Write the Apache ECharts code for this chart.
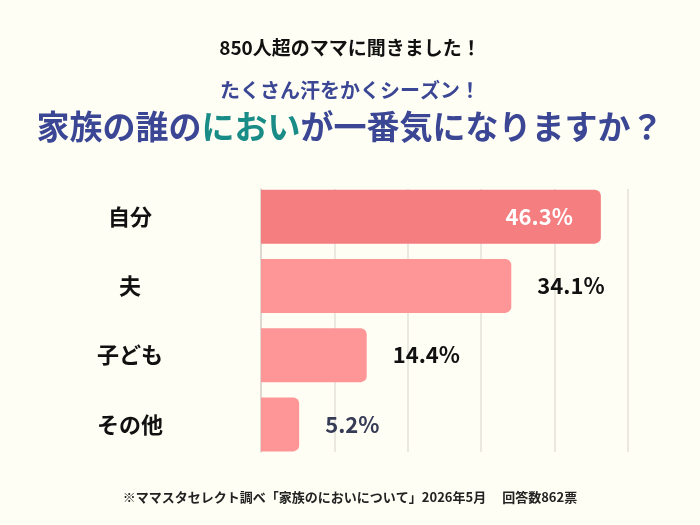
<!DOCTYPE html>
<html>
<head>
<meta charset="utf-8">
<script src="https://cdn.jsdelivr.net/npm/echarts@6/dist/echarts.min.js"></script>
<style>
  html, body { margin: 0; padding: 0; background: #fffef4; }
  #chart { width: 700px; height: 525px; }
</style>
</head>
<body>
<div id="chart"></div>
<script>
// survey answers, top to bottom
var categories = ['自分', '夫', '子ども', 'その他'];
var percents = [46.3, 34.1, 14.4, 5.2];
var barColors = ['#f47e80', '#fe9597', '#fe9597', '#fe9597'];
var labelColors = ['#ffffff', '#111111', '#111111', '#363b56'];

var FONT = '"Noto Sans CJK JP", "Noto Sans", sans-serif';
var chart = echarts.init(document.getElementById('chart'));

var option = {
  backgroundColor: '#fffef4',
  textStyle: { fontFamily: FONT },
  title: [{
    text: '850人超のママに聞きました！',
    left: 'center', top: 33,
    textStyle: { fontFamily: FONT, fontSize: 19, fontWeight: 'bold', color: '#111111' }
  }, {
    text: 'たくさん汗をかくシーズン！',
    left: 'center', top: 75,
    textStyle: { fontFamily: FONT, fontSize: 20, fontWeight: 'bold', color: '#3b4795' }
  }, {
    text: '{n|家族の誰の}{t|におい}{n|が一番気になりますか？}',
    left: 'center', top: 105,
    textStyle: {
      fontFamily: FONT,
      rich: {
        n: { fontFamily: FONT, fontSize: 33, fontWeight: 'bold', color: '#3b4795' },
        t: { fontFamily: FONT, fontSize: 33, fontWeight: 'bold', color: '#1a8c87' }
      }
    }
  }, {
    text: '※ママスタセレクト調べ「家族のにおいについて」2026年5月　 回答数862票',
    left: 'center', top: 486,
    textStyle: { fontFamily: FONT, fontSize: 13, fontWeight: 'bold', color: '#222222' }
  }],
  // grid 0 only carries the background grid lines, grid 1 the bars
  grid: [
    { left: 261, right: 72, top: 189, bottom: 73 },
    { left: 261, right: 72, top: 182, bottom: 66 }
  ],
  xAxis: [{
    gridIndex: 0, type: 'value', min: 0, max: 50, interval: 10,
    axisLabel: { show: false }, axisLine: { show: false }, axisTick: { show: false },
    splitLine: { lineStyle: { color: '#e4e1d8', width: 1.5 } }
  }, {
    gridIndex: 1, type: 'value', min: 0, max: 50, interval: 10,
    axisLabel: { show: false }, axisLine: { show: false }, axisTick: { show: false },
    splitLine: { show: false }
  }],
  yAxis: [{
    gridIndex: 0, type: 'category', inverse: true, data: categories,
    axisLine: { show: true, lineStyle: { color: '#d8d5cc', width: 1.5 } },
    axisTick: { show: false },
    axisLabel: { show: false }
  }, {
    gridIndex: 1, type: 'category', inverse: true, data: categories,
    axisLine: { show: false },
    axisTick: { show: false },
    axisLabel: {
      margin: 131, align: 'center',
      fontFamily: FONT, fontSize: 22, fontWeight: 'bold', color: '#111111'
    }
  }],
  series: [{
    type: 'bar',
    xAxisIndex: 1, yAxisIndex: 1,
    barWidth: 54,
    data: percents.map(function (v, i) {
      return {
        value: v,
        itemStyle: { color: barColors[i], borderRadius: [0, 6, 6, 0] },
        label: i === 0
          ? { position: 'insideRight', distance: 28, color: labelColors[i] }
          : { position: 'right', distance: 26, color: labelColors[i] }
      };
    }),
    label: {
      show: true,
      fontFamily: FONT, fontSize: 22, fontWeight: 'bold',
      formatter: function (p) { return p.value.toFixed(1) + '%'; }
    }
  }]
};

chart.setOption(option);
</script>
</body>
</html>
